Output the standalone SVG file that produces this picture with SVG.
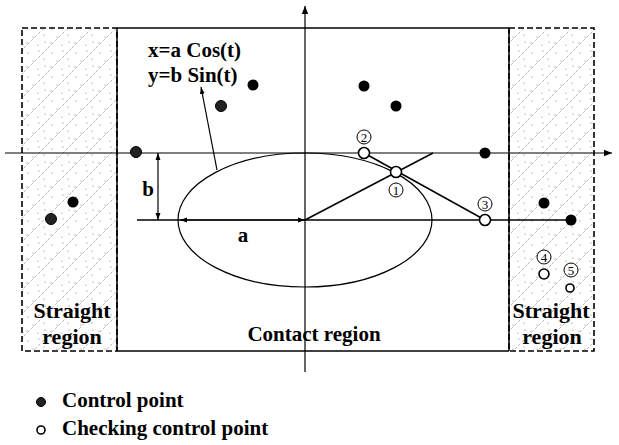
<svg xmlns="http://www.w3.org/2000/svg" width="619" height="445" viewBox="0 0 619 445">
<style>
.t{font-family:"Liberation Serif","Times New Roman",serif;font-weight:bold;fill:#000}
.ln{stroke:#000;stroke-width:1.5;fill:none}
.thin{stroke:#000;stroke-width:1.2;fill:none}
.dot{fill:#000}
.sp{fill:#222;stroke:#000;stroke-width:1}
.chk{fill:#fff;stroke:#000;stroke-width:1.6}
.lab{fill:#fff;stroke:#000;stroke-width:1}
.num{font-family:"Liberation Serif","Times New Roman",serif;font-size:13px;fill:#000;text-anchor:middle}
</style>
<defs>
<pattern id="hatch" width="24" height="24" patternUnits="userSpaceOnUse">
<rect width="24" height="24" fill="#fff"/>
<line x1="0" y1="24" x2="24" y2="0" stroke="#999" stroke-width="0.7" stroke-dasharray="3,2"/>
<circle cx="4" cy="5" r="0.6" fill="#777"/>
<circle cx="15" cy="3" r="0.6" fill="#777"/>
<circle cx="9" cy="13" r="0.6" fill="#777"/>
<circle cx="20" cy="11" r="0.6" fill="#777"/>
<circle cx="3" cy="19" r="0.6" fill="#777"/>
<circle cx="14" cy="21" r="0.6" fill="#777"/>
<circle cx="21" cy="18" r="0.6" fill="#777"/>
</pattern>
<marker id="ah" viewBox="0 0 10 10" refX="10" refY="5" markerWidth="8" markerHeight="8" orient="auto-start-reverse" markerUnits="userSpaceOnUse">
<path d="M0,1 L10,5 L0,9 Z" fill="#000"/>
</marker>
<marker id="as" viewBox="0 0 10 10" refX="10" refY="5" markerWidth="7" markerHeight="7" orient="auto-start-reverse" markerUnits="userSpaceOnUse">
<path d="M0,1.5 L10,5 L0,8.5 Z" fill="#000"/>
</marker>
</defs>
<rect width="619" height="445" fill="#fff"/>

<g id="left-region">
<rect x="22" y="28" width="95" height="323" fill="url(#hatch)" stroke="#000" stroke-width="1.6" stroke-dasharray="6,3"/>
<line x1="117" y1="28" x2="117" y2="351" class="ln"/>
<text class="t" font-size="22" x="72" y="318" text-anchor="middle">Straight</text>
<text class="t" font-size="22" x="72" y="344" text-anchor="middle">region</text>
</g>
<g id="right-region">
<rect x="509" y="28" width="85" height="323" fill="url(#hatch)" stroke="#000" stroke-width="1.6" stroke-dasharray="6,3"/>
<line x1="509" y1="28" x2="509" y2="351" class="ln"/>
<text class="t" font-size="22" x="551" y="318" text-anchor="middle">Straight</text>
<text class="t" font-size="22" x="552" y="344" text-anchor="middle">region</text>
</g>
<g id="contact-region">
<line x1="117" y1="28" x2="509" y2="28" class="ln"/>
<line x1="117" y1="351" x2="509" y2="351" class="ln"/>
<text class="t" font-size="21" x="314" y="341" text-anchor="middle">Contact region</text>
</g>
<g id="ellipse">
<ellipse cx="305" cy="220" rx="127" ry="67" class="thin"/>
</g>
<g id="equation">
<text class="t" font-size="21" x="148" y="57">x=a Cos(t)</text>
<text class="t" font-size="21" x="148" y="82">y=b Sin(t)</text>
</g>

<g id="connectors">
<line x1="5" y1="153" x2="612" y2="153" class="thin" marker-end="url(#ah)"/>
<line x1="305" y1="372" x2="305" y2="6" class="thin" marker-end="url(#ah)"/>
<line x1="137" y1="220" x2="570" y2="220" class="ln"/>
<line x1="180" y1="220" x2="305" y2="220" class="thin" marker-start="url(#as)" marker-end="url(#as)"/>
<line x1="158" y1="153" x2="158" y2="220" class="thin" marker-start="url(#as)" marker-end="url(#as)"/>
<line x1="217" y1="170" x2="201" y2="87" class="thin" marker-end="url(#as)"/>
<line x1="305" y1="220" x2="433" y2="153" class="ln"/>
<line x1="364" y1="153" x2="485" y2="220" class="ln"/>
</g>
<g id="dim-labels">
<text class="t" font-size="21" x="148" y="196" text-anchor="middle">b</text>
<text class="t" font-size="21" x="243" y="242" text-anchor="middle">a</text>
</g>

<g id="control-points">
<circle cx="253" cy="85" r="5.5" class="dot"/>
<circle cx="221" cy="106" r="5.5" class="sp"/>
<circle cx="136" cy="152" r="5.5" class="sp"/>
<circle cx="364" cy="86" r="5.5" class="dot"/>
<circle cx="396" cy="106" r="5.5" class="dot"/>
<circle cx="485" cy="153" r="5.5" class="dot"/>
<circle cx="73" cy="202" r="5.5" class="dot"/>
<circle cx="51" cy="219" r="5.5" class="sp"/>
<circle cx="544" cy="203" r="5.5" class="dot"/>
<circle cx="571" cy="220" r="5.5" class="dot"/>
</g>
<g id="checking-points">
<circle cx="364" cy="153" r="5.5" class="chk"/>
<circle cx="396" cy="172" r="5.5" class="chk"/>
<circle cx="485" cy="220" r="5.5" class="chk"/>
<circle cx="544" cy="274" r="5" class="chk"/>
<circle cx="570" cy="288" r="4" class="chk"/>
</g>
<g id="point-labels">
<circle cx="364" cy="137" r="7" class="lab"/><text class="num" x="364" y="141.5">2</text>
<circle cx="396" cy="190" r="7" class="lab"/><text class="num" x="396" y="194.5">1</text>
<circle cx="485" cy="204" r="7" class="lab"/><text class="num" x="485" y="208.5">3</text>
<circle cx="544" cy="257" r="7" class="lab"/><text class="num" x="544" y="261.5">4</text>
<circle cx="571" cy="270" r="7" class="lab"/><text class="num" x="571" y="274.5">5</text>
</g>

<g id="legend">
<circle cx="41" cy="402" r="4.5" class="sp"/>
<text class="t" font-size="21" x="62" y="407">Control point</text>
<circle cx="41" cy="430" r="4" class="chk" stroke-width="1.3"/>
<text class="t" font-size="21" x="62" y="435">Checking control point</text>
</g>
</svg>
